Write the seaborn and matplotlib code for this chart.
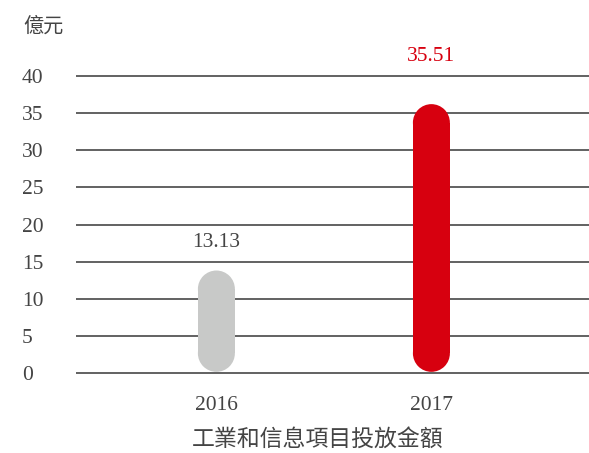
import matplotlib
matplotlib.use("Agg")
import matplotlib.pyplot as plt
import seaborn as sns
import pandas as pd
from matplotlib.patches import Rectangle, Ellipse

# data
years = ["2016", "2017"]
amounts = [13.13, 35.51]
bar_colors = ["#c8c9c8", "#d7000f"]
label_colors = ["#444444", "#d7000f"]
label_gap = [4.5, 7.1]   # how far above each pill the value sits (data units)
y_ticks = [0, 5, 10, 15, 20, 25, 30, 35, 40]
unit_label = "億元"
x_title = "工業和信息項目投放金額"

sns.set_theme(style="white")
plt.rcParams["font.family"] = ["Liberation Serif", "Noto Sans CJK TC", "DejaVu Sans"]

df = pd.DataFrame({"year": years, "amount": amounts})

fig = plt.figure(figsize=(5.89, 4.53), dpi=100)
ax = fig.add_axes([0.129, 0.1726, 0.871, 0.663])

sns.barplot(data=df, x="year", y="amount", hue="year", palette=bar_colors,
            width=0.172, saturation=1, legend=False, ax=ax, zorder=3)

ax.set_xlim(-0.653, 1.733)
ax.set_ylim(-0.2, 40.2)

# turn the plain bars into pills (rect body + round end caps)
px_x = 0.871 * 589 / (1.733 + 0.653)
px_y = 0.663 * 453 / 40.4
for p in list(ax.patches):
    x0, w, h = p.get_x(), p.get_width(), p.get_height()
    fc = p.get_facecolor()
    p.remove()
    ry = (w / 2) * px_x / px_y
    y0, y1 = 0.2, h + 0.7
    ax.add_patch(Rectangle((x0, y0 + ry), w, y1 - y0 - 2 * ry, fc=fc, ec="none", zorder=3))
    for yc in (y0 + ry, y1 - ry):
        ax.add_patch(Ellipse((x0 + w / 2, yc), w, 2 * ry, fc=fc, ec="none", zorder=3))

for i, v in enumerate(amounts):
    ax.text(i, v + label_gap[i], f"{v:.2f}", ha="center", va="center",
            fontsize=15.5, color=label_colors[i])

ax.set_yticks(y_ticks)
ax.yaxis.grid(True, color="#555555", linewidth=1.3)
ax.xaxis.grid(False)
ax.set_axisbelow(True)
for s in ax.spines.values():
    s.set_visible(False)

ax.tick_params(axis="y", length=0, pad=38.9, labelsize=15.5, labelcolor="#444444")
ax.tick_params(axis="x", length=0, pad=15, labelsize=15.5, labelcolor="#444444")
for t in ax.get_yticklabels():
    t.set_ha("left")
ax.set_xlabel("")
ax.set_ylabel("")

fig.text(0.073, 0.94, unit_label, ha="center", va="center", fontsize=14.5,
         color="#444444")
fig.text(0.54, 0.029, x_title, ha="center", va="center", fontsize=16.5,
         color="#444444")

fig.savefig("out.png", dpi=100)
